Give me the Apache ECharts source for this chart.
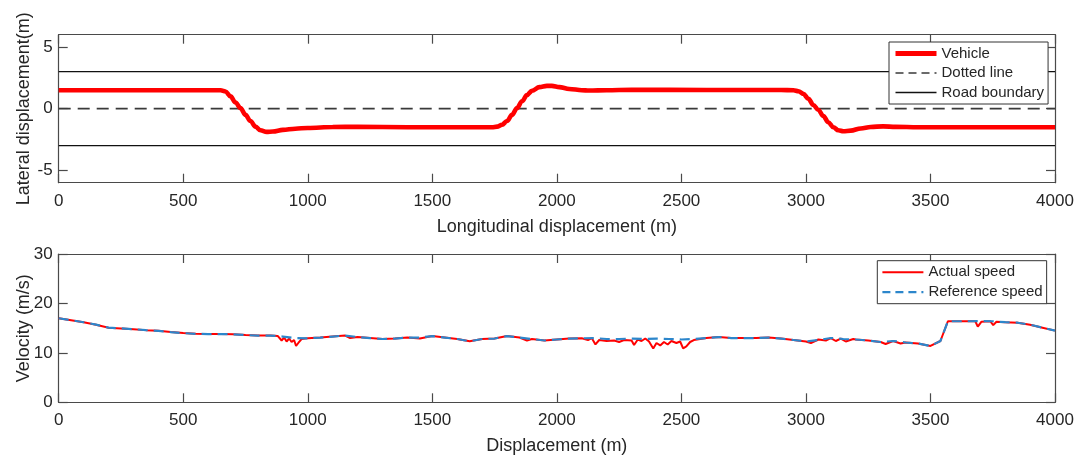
<!DOCTYPE html>
<html>
<head>
<meta charset="utf-8">
<script src="https://cdn.jsdelivr.net/npm/echarts@6/dist/echarts.min.js"></script>
<style>
html,body{margin:0;padding:0;background:#fff;}
#chart{width:1080px;height:463px;}
</style>
</head>
<body>
<div id="chart"></div>
<script>
// ---- data ----
var xRange = [0, 4000];
var xTickInterval = 500;
var lateralTicks = [-5, 0, 5];
var velocityTicks = [0, 10, 20, 30];

var vehicleX = [0, 600, 650, 670, 690, 710, 730, 750, 770, 790, 810, 835, 860, 900, 950, 1000, 1100, 1200, 1400, 1600, 1740, 1760, 1780, 1800, 1820, 1840, 1860, 1880, 1900, 1930, 1960, 1980, 2010, 2050, 2100, 2130, 2200, 2300, 2600, 2900, 2950, 2970, 2990, 3010, 3030, 3050, 3070, 3090, 3110, 3130, 3150, 3180, 3220, 3260, 3310, 3360, 3450, 4000];
var vehicleY = [1.5, 1.5, 1.5, 1.4, 1.0, 0.5, 0.05, -0.5, -1.0, -1.45, -1.75, -1.88, -1.85, -1.72, -1.62, -1.56, -1.48, -1.47, -1.5, -1.5, -1.5, -1.45, -1.3, -1.0, -0.5, 0.05, 0.6, 1.1, 1.45, 1.75, 1.85, 1.85, 1.75, 1.6, 1.5, 1.47, 1.5, 1.53, 1.52, 1.52, 1.5, 1.42, 1.2, 0.8, 0.3, -0.1, -0.6, -1.1, -1.5, -1.75, -1.83, -1.78, -1.6, -1.48, -1.43, -1.47, -1.5, -1.5];

var lineX = [0, 4000];
var dottedLineY = [0, 0];
var upperBoundaryY = [3, 3];
var lowerBoundaryY = [-3, -3];

var refX = [0, 50, 100, 150, 200, 250, 300, 350, 400, 450, 500, 550, 600, 650, 700, 750, 800, 850, 900, 950, 1000, 1050, 1100, 1150, 1200, 1250, 1300, 1350, 1400, 1450, 1500, 1550, 1600, 1650, 1700, 1750, 1800, 1850, 1900, 1950, 2000, 2050, 2100, 2150, 2200, 2250, 2300, 2350, 2400, 2450, 2500, 2550, 2600, 2650, 2700, 2750, 2800, 2850, 2900, 2950, 3000, 3050, 3100, 3150, 3200, 3250, 3300, 3350, 3400, 3450, 3500, 3540, 3570, 3600, 3650, 3700, 3750, 3800, 3850, 3900, 3950, 4000];
var refV = [17.0, 16.6, 16.2, 15.7, 15.1, 14.95, 14.8, 14.6, 14.45, 14.2, 14.0, 13.85, 13.8, 13.8, 13.75, 13.6, 13.5, 13.5, 13.3, 13.0, 12.95, 13.1, 13.3, 13.5, 13.2, 13.0, 12.8, 12.9, 13.1, 13.1, 13.4, 13.1, 12.8, 12.35, 12.8, 12.9, 13.4, 13.1, 12.8, 12.5, 12.7, 12.9, 12.95, 13.0, 12.8, 12.8, 12.9, 12.8, 12.9, 12.8, 12.7, 12.8, 13.0, 13.2, 13.0, 13.0, 13.0, 13.1, 12.9, 12.6, 12.3, 12.6, 13.0, 12.8, 12.7, 12.5, 12.2, 12.4, 12.1, 11.9, 11.4, 12.4, 16.4, 16.4, 16.4, 16.45, 16.4, 16.2, 16.1, 15.7, 15.1, 14.5];

var actX = [0, 50, 100, 150, 200, 250, 300, 350, 400, 450, 500, 550, 600, 650, 700, 750, 800, 850, 880, 895, 905, 915, 925, 935, 945, 953, 962, 975, 990, 1000, 1050, 1100, 1150, 1170, 1200, 1250, 1300, 1350, 1400, 1450, 1500, 1550, 1600, 1650, 1700, 1750, 1800, 1850, 1880, 1900, 1950, 2000, 2050, 2100, 2125, 2140, 2155, 2170, 2200, 2230, 2250, 2270, 2300, 2310, 2325, 2340, 2355, 2370, 2387, 2400, 2415, 2430, 2445, 2460, 2480, 2495, 2507, 2520, 2535, 2550, 2600, 2650, 2700, 2750, 2800, 2850, 2900, 2950, 3000, 3020, 3050, 3080, 3100, 3120, 3140, 3160, 3190, 3200, 3250, 3300, 3320, 3350, 3380, 3400, 3450, 3500, 3540, 3570, 3600, 3650, 3680, 3690, 3705, 3740, 3752, 3765, 3800, 3850, 3900, 3950, 4000];
var actV = [17.0, 16.6, 16.2, 15.7, 15.1, 14.95, 14.8, 14.6, 14.45, 14.2, 14.0, 13.85, 13.8, 13.8, 13.75, 13.6, 13.5, 13.5, 13.4, 12.5, 13.1, 12.3, 12.9, 12.2, 12.6, 11.4, 12.0, 12.8, 12.9, 12.95, 13.1, 13.3, 13.5, 13.0, 13.2, 13.0, 12.8, 12.9, 13.1, 12.9, 13.4, 13.1, 12.8, 12.35, 12.8, 12.9, 13.4, 13.1, 12.5, 12.8, 12.5, 12.7, 12.9, 12.95, 12.6, 13.0, 11.7, 12.6, 12.4, 12.5, 12.2, 12.6, 12.5, 11.6, 12.7, 12.4, 12.9, 12.3, 10.9, 12.0, 11.5, 12.2, 11.7, 12.4, 12.0, 12.3, 10.9, 11.3, 12.2, 12.6, 13.0, 13.2, 13.0, 13.0, 13.0, 13.1, 12.9, 12.6, 12.3, 12.0, 12.7, 12.5, 13.0, 12.4, 12.9, 12.3, 12.8, 12.7, 12.5, 12.2, 11.8, 12.4, 11.9, 12.1, 11.9, 11.4, 12.4, 16.4, 16.4, 16.4, 16.4, 15.3, 16.3, 16.4, 15.6, 16.3, 16.2, 16.1, 15.7, 15.1, 14.5];

function pairs(xs, ys) { return xs.map(function (x, i) { return [x, ys[i]]; }); }

// ---- styling ----
var FONT = "'Liberation Sans', Arial, Helvetica, sans-serif";
var TXT = '#262626';
var AX = '#4a4a4a';
var RED = '#ff0000';
var BLUE = '#2c86cb';

function plain(v) { return String(v); }

function xAxisDef(grid, pos, showLabel, name, nameGap) {
  return {
    type: 'value', gridIndex: grid, position: pos,
    min: xRange[0], max: xRange[1], interval: xTickInterval,
    name: name || '', nameLocation: 'middle', nameGap: nameGap || 0, nameMoveOverlap: false,
    nameTextStyle: { fontFamily: FONT, fontSize: 18, color: TXT },
    axisLine: { show: true, onZero: false, lineStyle: { color: AX, width: 1.2 } },
    axisTick: { show: true, inside: true, length: 9, lineStyle: { color: AX, width: 1.2 } },
    axisLabel: { show: showLabel, margin: 10, fontFamily: FONT, fontSize: 17, color: TXT, formatter: plain },
    splitLine: { show: false }
  };
}
function yAxisDef(grid, pos, showLabel, min, max, ticks, name, nameGap) {
  return {
    type: 'value', gridIndex: grid, position: pos, min: min, max: max,
    name: name || '', nameLocation: 'middle', nameGap: nameGap || 0, nameMoveOverlap: false,
    nameTextStyle: { fontFamily: FONT, fontSize: 18, color: TXT },
    axisLine: { show: true, onZero: false, lineStyle: { color: AX, width: 1.2 } },
    axisTick: { show: true, inside: true, length: 9, customValues: ticks, lineStyle: { color: AX, width: 1.2 } },
    axisLabel: { show: showLabel, margin: 6, customValues: ticks, fontFamily: FONT, fontSize: 17, color: TXT, formatter: plain },
    splitLine: { show: false }
  };
}

var legendBase = {
  orient: 'vertical', itemWidth: 41, itemHeight: 14,
  backgroundColor: '#ffffff', borderColor: '#333333', borderWidth: 1, borderRadius: 0,
  textStyle: { fontFamily: FONT, fontSize: 15, color: TXT },
  itemStyle: { opacity: 0 },
  selectedMode: false
};

var option = {
  animation: false,
  backgroundColor: '#ffffff',
  grid: [
    { left: 58.7, right: 25, top: 34.7, height: 148, containLabel: false, outerBoundsMode: 'none' },
    { left: 58.7, right: 25, top: 254, height: 148.3, containLabel: false, outerBoundsMode: 'none' }
  ],
  xAxis: [
    xAxisDef(0, 'bottom', true, 'Longitudinal displacement (m)', 35),
    xAxisDef(0, 'top', false),
    xAxisDef(1, 'bottom', true, 'Displacement (m)', 35),
    xAxisDef(1, 'top', false)
  ],
  yAxis: [
    yAxisDef(0, 'left', true, -6, 6, lateralTicks, 'Lateral displacement(m)', 26),
    yAxisDef(0, 'right', false, -6, 6, lateralTicks),
    yAxisDef(1, 'left', true, 0, 30, velocityTicks, 'Velocity (m/s)', 26),
    yAxisDef(1, 'right', false, 0, 30, velocityTicks)
  ],
  legend: [
    Object.assign({}, legendBase, {
      left: 889, top: 42, padding: [4, 4, 4, 4], itemGap: 4.5,
      data: [
        { name: 'Vehicle', lineStyle: { width: 5 } },
        { name: 'Dotted line', lineStyle: { width: 1.6, type: [8, 5] } },
        { name: 'Road boundary', lineStyle: { width: 1.3 } }
      ]
    }),
    Object.assign({}, legendBase, {
      left: 877.3, top: 260.7, padding: [4, 4, 4, 4], itemGap: 5,
      data: [
        { name: 'Actual speed', lineStyle: { width: 2 } },
        { name: 'Reference speed', lineStyle: { width: 2.2, type: [8, 5] } }
      ]
    })
  ],
  series: [
    { name: 'Road boundary', type: 'line', xAxisIndex: 0, yAxisIndex: 0, symbol: 'none', z: 2,
      data: pairs(lineX, upperBoundaryY), lineStyle: { color: '#111111', width: 1.3 } },
    { name: 'Road boundary', type: 'line', xAxisIndex: 0, yAxisIndex: 0, symbol: 'none', z: 2,
      data: pairs(lineX, lowerBoundaryY), lineStyle: { color: '#111111', width: 1.3 } },
    { name: 'Dotted line', type: 'line', xAxisIndex: 0, yAxisIndex: 0, symbol: 'none', z: 2,
      data: pairs(lineX, dottedLineY), lineStyle: { color: '#3a3a3a', width: 1.8, type: [12, 7] } },
    { name: 'Vehicle', type: 'line', xAxisIndex: 0, yAxisIndex: 0, symbol: 'none', z: 3,
      smooth: 0.35, smoothMonotone: 'x',
      data: pairs(vehicleX, vehicleY), lineStyle: { color: RED, width: 4.6 }, itemStyle: { color: RED } },
    { name: 'Actual speed', type: 'line', xAxisIndex: 2, yAxisIndex: 2, symbol: 'none', z: 2,
      data: pairs(actX, actV), lineStyle: { color: RED, width: 2 }, itemStyle: { color: RED } },
    { name: 'Reference speed', type: 'line', xAxisIndex: 2, yAxisIndex: 2, symbol: 'none', z: 3,
      data: pairs(refX, refV), lineStyle: { color: BLUE, width: 2.2, type: [10, 6] }, itemStyle: { color: BLUE } }
  ]
};

var chart = echarts.init(document.getElementById('chart'), null, { renderer: 'canvas' });
chart.setOption(option);
</script>
</body>
</html>
